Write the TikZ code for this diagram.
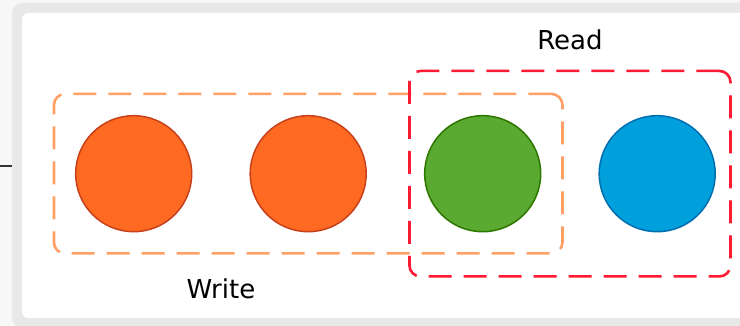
\documentclass[tikz,border=0pt]{standalone}
\usepackage{fontspec}
\setmainfont{DejaVu Sans}
\usetikzlibrary{positioning,fit}
\usepackage{xcolor}
\definecolor{orangefill}{HTML}{FF6A22}
\definecolor{orangeline}{HTML}{C8401A}
\definecolor{greenfill}{HTML}{5AA930}
\definecolor{greenline}{HTML}{2D7600}
\definecolor{bluefill}{HTML}{00A0DD}
\definecolor{blueline}{HTML}{006EAF}
\definecolor{orangedash}{HTML}{FFA066}
\definecolor{reddash}{HTML}{FF1A33}
\definecolor{pagebg}{HTML}{F7F7F7}
\definecolor{frameline}{HTML}{E8E8E8}

\begin{document}
\begin{tikzpicture}[x=1pt, y=1pt, node distance=57pt,
  ball/.style={circle, minimum size=116pt, line width=1.5pt, fill=#1fill, draw=#1line},
  group/.style={draw=#1, line width=2.6pt, dash pattern=on 23pt off 12pt, rounded corners=11pt},
  lbl/.style={inner sep=0pt, font=\fontsize{26}{31}\selectfont}]
  \useasboundingbox (0,0) rectangle (740,326);
  \fill[pagebg] (0,0) rectangle (740,326);
  \fill[frameline, rounded corners=10pt] (12,-2) rectangle (800,323);
  \fill[white, rounded corners=6pt] (22,8) rectangle (790,313);
  \coordinate (incoming) at (0,160);
  \coordinate (frameedge) at (12,160);
  \draw[line width=2.4pt, black!80] (incoming) -- (frameedge);

  \node[ball=orange] (s1) at (133.7,152.3) {};
  \node[ball=orange, right=of s1] (s2) {};
  \node[ball=green, right=of s2] (s3) {};
  \node[ball=blue, right=of s3] (s4) {};

  \node[group=orangedash, fit=(s1)(s3), inner sep=21pt] (writebox) {};
  \node[group=reddash, fit=(s3)(s4), inner xsep=14.5pt, inner ysep=44pt] (readbox) {};

  \node[lbl, above=20pt of readbox] (readlbl) {Read};
  \path (s1) -- (s2) coordinate[midway] (mid);
  \node[lbl, anchor=north, yshift=-24pt] (writelbl) at (mid |- writebox.south) {Write};
\end{tikzpicture}
\end{document}
